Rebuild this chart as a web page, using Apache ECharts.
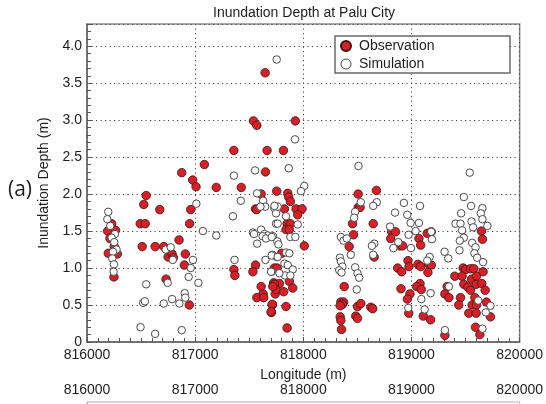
<!DOCTYPE html>
<html>
<head>
<meta charset="utf-8">
<script src="https://cdn.jsdelivr.net/npm/echarts@6/dist/echarts.min.js"></script>
<style>html,body{margin:0;padding:0;background:#fff;}#c{width:546px;height:404px;}</style>
</head>
<body>
<div id="c"></div>
<script>
// ---- Data ----
var titleText = 'Inundation Depth at Palu City';
var xTicks = [816000, 817000, 818000, 819000, 820000];
var yTicks = [0, 0.5, 1.0, 1.5, 2.0, 2.5, 3.0, 3.5, 4.0];
var seriesNames = ['Observation', 'Simulation'];

var obsLon = [
  816228,816191,816264,816212,816252,816197,816280,816249,
  816547,816525,816492,816538,816510,816673,816630,816710,816750,816787,816799,816851,816731,816876,816977,817008,816959,816949,816909,816900,816946,817085,
  817195,817358,817426,817539,817570,817647,817665,817650,817610,817558,817568,817754,817358,817367,817558,817534,817610,817628,817570,817634,817726,817732,817740,817714,817705,
  817926,817816,817856,817865,817880,817825,817933,817988,817948,817850,817880,817840,817871,818009,817800,817757,817779,817733,817871,817748,817819,817902,817718,817712,817702,817840,817850,
  818507,818676,818507,818525,818455,818646,818464,818424,818655,818378,818347,818372,818362,818341,818501,818532,818624,818642,818341,818347,818485,818501,818353,
  818817,818853,818808,818894,818918,818872,818909,818903,818968,818977,818986,818962,818975,
  819069,819085,819146,819183,819060,819085,819161,819183,819152,819079,819048,819091,819109,819177,
  819647,819656,819478,819500,819546,819576,819401,819468,819555,819601,819662,819484,819521,819546,819598,819650,819681,819330,819309,819346,819453,819586,819437,819561,819601,819693,819530,819598,819730,819592,819632,819309
];
var obsDepth = [
  1.60,1.50,1.51,1.40,1.29,1.20,1.19,0.88,
  1.98,1.86,1.60,1.60,1.29,1.79,1.29,1.29,1.15,1.19,1.14,1.38,0.85,2.29,2.19,2.10,1.79,1.60,1.19,1.04,0.50,2.40,
  2.09,2.59,2.09,2.99,2.93,3.64,2.59,2.30,2.00,1.80,1.79,2.04,0.98,0.90,1.04,0.95,0.75,0.65,0.60,0.60,0.80,1.00,0.65,0.50,0.40,
  2.99,2.59,2.01,1.96,1.90,1.80,1.80,1.80,1.72,1.60,1.60,1.52,1.52,1.30,1.20,1.00,0.79,0.78,0.82,0.71,0.68,0.73,0.75,0.51,0.41,0.48,0.19,
  2.00,2.05,1.82,1.82,1.60,1.60,1.45,1.29,1.15,0.75,0.54,0.54,0.51,0.49,0.48,0.52,0.47,0.45,0.34,0.29,0.35,0.32,0.17,
  1.49,1.49,1.40,1.30,1.30,1.00,0.95,0.72,1.10,1.02,0.65,0.58,0.39,
  1.40,1.31,1.47,1.49,1.05,1.02,1.05,1.04,0.94,0.79,0.75,0.71,0.35,0.30,
  1.50,1.39,1.00,0.98,0.99,0.99,0.89,0.89,0.85,0.89,0.95,0.78,0.74,0.70,0.78,0.79,0.70,0.75,0.65,0.60,0.60,0.60,0.50,0.50,0.50,0.54,0.39,0.39,0.34,0.20,0.10,0.09
];

var simLon = [
  816197,816188,816215,816258,816228,816252,816273,816240,816234,816249,816246,
  816547,816519,816535,816728,816774,816793,816746,816710,816787,816854,816903,816909,816940,816959,816980,817011,817030,816495,816630,816876,817072,
  817358,817554,817349,817422,817573,817628,817647,817604,817732,817748,817748,817195,817610,817534,817544,817640,817671,817624,817720,817655,817573,817760,817714,817650,817364,817708,817754,817754,
  817923,817865,818009,817978,817763,817733,817840,817948,817763,817708,817880,817926,817770,817708,817763,817840,817871,817825,817856,817902,817831,817880,817779,817702,
  818531,818479,818470,818679,818646,818347,818372,818402,818439,818338,818347,818362,818332,818353,818479,818501,818516,818494,818646,818655,818634,818510,
  818848,818930,818961,818992,818802,818833,818878,818973,818995,818970,
  819539,819484,819551,819656,819641,819656,819702,819459,819407,819453,819468,819555,819570,819484,819447,819444,819561,819592,819582,819607,819662,819306,819340,
  819079,819069,819038,819183,819189,819168,819146,819177,819122,819346,819617,819687,819730,819656,819309,819091
];
var simDepth = [
  1.76,1.66,1.57,1.46,1.41,1.35,1.25,1.22,1.13,1.05,0.95,
  0.78,0.53,0.55,1.25,1.28,1.11,0.80,0.52,0.58,0.52,0.66,0.60,0.88,1.00,1.11,1.87,0.80,0.20,0.11,0.16,1.50,
  2.25,2.32,1.70,1.91,2.01,1.91,1.83,1.83,1.81,1.74,1.60,1.44,1.52,1.48,1.46,1.46,1.44,1.43,1.43,1.40,1.33,1.36,1.18,1.11,1.11,0.95,1.15,3.82,
  2.74,2.35,2.11,2.04,1.83,1.84,1.70,1.59,1.60,1.42,1.42,1.42,1.32,1.17,1.15,1.21,1.20,1.06,1.04,0.98,0.90,0.90,0.93,0.95,
  1.89,1.76,1.68,1.89,1.84,1.42,1.37,1.40,1.18,1.14,1.09,1.02,0.97,0.94,1.01,0.93,0.87,0.71,1.18,1.33,1.30,2.38,
  1.75,1.88,1.72,1.61,1.56,1.27,1.35,1.45,1.27,0.46,
  2.29,1.96,1.84,1.81,1.74,1.66,1.57,1.74,1.60,1.60,1.51,1.63,1.55,1.41,1.37,1.24,1.34,1.28,1.20,1.14,1.08,1.22,1.13,
  1.84,1.61,1.50,1.49,1.39,1.15,1.10,0.66,0.44,0.75,0.56,0.40,0.49,0.18,0.16,0.58
];

// ---- Build ----
function pairs(a, b) { var r = []; for (var i = 0; i < a.length; i++) r.push([a[i], b[i]]); return r; }
var FONT = 'Liberation Sans';
var TXT = '#1e1e1e';
var dotted = { color: '#444', width: 1, type: [1.2, 3.3] };

var chart = echarts.init(document.getElementById('c'), null, { renderer: 'canvas' });
chart.setOption({
  animation: false,
  backgroundColor: '#fff',
  textStyle: { fontFamily: FONT },
  grid: [
    { left: 87, right: 25, top: 24, bottom: 62, show: true, borderColor: '#8a8a8a', borderWidth: 1.5 },
    { left: 87, right: 25, top: 402, bottom: -300, show: true, borderColor: '#b0b0b0', borderWidth: 1 }
  ],
  graphic: [
    { type: 'text', left: 304 - 91, top: 6, z: 10,
      style: { text: titleText, font: '14px "Liberation Sans"', fill: TXT } },
    { type: 'text', left: 8, top: 180, z: 10,
      style: { text: '(a)', font: '21px "Open Sans"', fill: TXT } },
    { type: 'rect', shape: { x: 335, y: 36, width: 175, height: 37 }, z: 3,
      style: { fill: '#fff', stroke: '#6a6a6a', lineWidth: 1.5 } }
  ],
  legend: {
    orient: 'vertical', left: 340, top: 38, padding: 0, itemGap: 2,
    itemWidth: 16, itemHeight: 10, z: 5,
    textStyle: { fontSize: 14, color: TXT, fontFamily: FONT, lineHeight: 16 },
    data: [
      { name: seriesNames[0], icon: 'circle' },
      { name: seriesNames[1], icon: 'circle', itemStyle: { borderWidth: 1 } }
    ]
  },
  xAxis: [
    { type: 'value', gridIndex: 0, position: 'bottom', min: xTicks[0], max: xTicks[xTicks.length - 1], interval: 1000,
      name: 'Longitude (m)', nameLocation: 'middle', nameGap: 26,
      nameTextStyle: { fontSize: 14, color: TXT, fontFamily: FONT },
      axisLine: { show: true, lineStyle: { color: '#666', width: 1.5 } },
      axisTick: { show: true, inside: true, length: 5, lineStyle: { color: '#555' } },
      axisLabel: { fontSize: 14, color: TXT, margin: 6, formatter: function (v) { return String(v); } },
      splitLine: { show: true, lineStyle: dotted } },
    { type: 'value', gridIndex: 0, position: 'bottom', min: xTicks[0], max: xTicks[xTicks.length - 1], interval: 100,
      axisLine: { show: false }, axisLabel: { show: false }, splitLine: { show: false },
      axisTick: { show: true, inside: true, length: 4, lineStyle: { color: '#555' } } },
    { type: 'value', gridIndex: 1, position: 'top', min: xTicks[0], max: xTicks[xTicks.length - 1], interval: 1000,
      axisLine: { show: true, lineStyle: { color: '#b0b0b0', width: 1 } },
      axisTick: { show: false },
      axisLabel: { fontSize: 14, color: TXT, margin: 5, formatter: function (v) { return String(v); } },
      splitLine: { show: false } }
  ],
  yAxis: [
    { type: 'value', gridIndex: 0, position: 'left', min: 0, max: 4.3, interval: 0.5,
      name: 'Inundation Depth (m)', nameLocation: 'middle', nameGap: 35,
      nameTextStyle: { fontSize: 14, color: TXT, fontFamily: FONT },
      axisLine: { show: true, lineStyle: { color: '#666', width: 1.5 } },
      axisTick: { show: true, inside: true, length: 5, lineStyle: { color: '#555' } },
      axisLabel: { fontSize: 14, color: TXT, margin: 5,
        formatter: function (v) {
          if (Math.abs(v * 2 - Math.round(v * 2)) > 1e-6 || v > 4.01) return '';
          return v === 0 ? '0' : v.toFixed(1);
        } },
      splitLine: { show: true, lineStyle: dotted } },
    { type: 'value', gridIndex: 0, position: 'left', min: 0, max: 4.3, interval: 0.1,
      axisLine: { show: false }, axisLabel: { show: false }, splitLine: { show: false },
      axisTick: { show: true, inside: true, length: 4, lineStyle: { color: '#555' } } },
    { type: 'value', gridIndex: 1, position: 'left', min: 0, max: 1,
      axisLine: { show: true, lineStyle: { color: '#b0b0b0', width: 1 } },
      axisTick: { show: false }, axisLabel: { show: false }, splitLine: { show: false } }
  ],
  series: [
    { name: seriesNames[0], type: 'scatter', xAxisIndex: 0, yAxisIndex: 0,
      symbol: 'circle', symbolSize: 8.5,
      itemStyle: { color: '#d61f26', borderColor: '#3b1414', borderWidth: 0.8, opacity: 1 },
      data: pairs(obsLon, obsDepth) },
    { name: seriesNames[1], type: 'scatter', xAxisIndex: 0, yAxisIndex: 0,
      symbol: 'circle', symbolSize: 7.5,
      itemStyle: { color: '#ffffff', borderColor: '#4a4a4a', borderWidth: 1, opacity: 1 },
      data: pairs(simLon, simDepth) }
  ]
});
</script>
</body>
</html>
